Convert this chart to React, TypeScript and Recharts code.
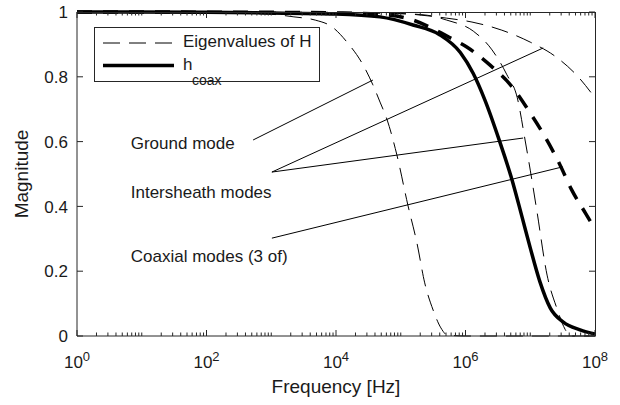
import { LineChart, Line, XAxis, YAxis, ReferenceLine, ReferenceDot } from 'recharts';

// curves: log10(frequency) and magnitude
const groundExp = [0, 1, 2, 3, 3.35, 3.68, 3.94, 4.17, 4.42, 4.57, 4.68, 4.79, 4.94, 5.11, 5.25, 5.37, 5.5, 5.62, 5.72, 6, 7, 8];
const groundMag = [1, 1, 0.998, 0.993, 0.985, 0.975, 0.954, 0.907, 0.836, 0.775, 0.722, 0.667, 0.559, 0.404, 0.287, 0.164, 0.08, 0.025, 0.003, 0, 0, 0];

const sheathLowExp = [0, 4, 5, 5.41, 5.71, 6.12, 6.41, 6.64, 6.8, 6.92, 7.0, 7.1, 7.26, 7.41, 7.54, 7.62, 8];
const sheathLowMag = [1, 0.998, 0.995, 0.99, 0.975, 0.941, 0.883, 0.806, 0.735, 0.605, 0.512, 0.389, 0.188, 0.086, 0.02, 0, 0];

const sheathHighExp = [0, 4, 5, 5.71, 6.1, 6.56, 7.0, 7.38, 7.74, 8];
const sheathHighMag = [1, 0.999, 0.995, 0.981, 0.969, 0.944, 0.907, 0.864, 0.8, 0.735];

const coaxModeExp = [0, 3, 4, 4.7, 5.19, 5.56, 5.72, 6.02, 6.38, 6.72, 7.0, 7.23, 7.46, 7.64, 7.85, 8];
const coaxModeMag = [1, 0.999, 0.997, 0.993, 0.975, 0.942, 0.925, 0.892, 0.836, 0.769, 0.688, 0.614, 0.528, 0.451, 0.38, 0.33];

const hCoaxExp = [0, 2, 3, 4, 4.68, 5.19, 5.6, 5.92, 6.12, 6.3, 6.53, 6.72, 6.87, 7.0, 7.15, 7.31, 7.51, 7.77, 8];
const hCoaxMag = [1, 0.999, 0.997, 0.994, 0.985, 0.96, 0.93, 0.875, 0.81, 0.728, 0.599, 0.481, 0.37, 0.272, 0.167, 0.086, 0.043, 0.019, 0.006];

// annotations: text anchors and leader lines, [log10 f, magnitude]
const noteText = ['Ground mode', 'Intersheath modes', 'Coaxial modes (3 of)'];
const noteAt = [[0.83, 0.597], [0.83, 0.446], [0.83, 0.248]];
const leaders = [
  [[2.72, 0.605], [4.57, 0.79]],
  [[3.01, 0.506], [7.2, 0.889]],
  [[3.01, 0.506], [6.89, 0.611]],
  [[3.01, 0.302], [7.5, 0.522]],
];

const labeledExps = [0, 2, 4, 6, 8];
const yTicks = [0, 0.2, 0.4, 0.6, 0.8, 1];

const xTicks: number[] = [];
for (let e = 0; e < 8; e++) for (let k = 1; k < 10; k++) xTicks.push(k * 10 ** e);
xTicks.push(1e8);

const pts = (exps: number[], mags: number[]) => exps.map((e, i) => ({ f: 10 ** e, m: mags[i] }));

const ink = '#1a1a1a';
const axisInk = '#262626';

// plot box in page px (chart 620x405, margins + axis sizes below)
const box = { left: 77, top: 12, width: 518, height: 324 };

function tickInfo(v: number) {
  const e = Math.round(Math.log10(v));
  const decade = Math.abs(10 ** e - v) < 1e-6 * v;
  return { e, labeled: decade && labeledExps.includes(e) };
}

const BottomTick = (p: any) => {
  const { e, labeled } = tickInfo(p.payload.value);
  return (
    <g>
      <line x1={p.x} x2={p.x} y1={p.y} y2={p.y - (labeled ? 6 : 3.5)} stroke={axisInk} />
      {labeled && (
        <text x={p.x} y={p.y + 32} textAnchor="middle" fontSize={17} fill={ink}>
          <tspan>10</tspan>
          <tspan dy={-7} fontSize={13}>{e}</tspan>
        </text>
      )}
    </g>
  );
};

const LeftTick = (p: any) => {
  const v = p.payload.value;
  return (
    <g>
      <line x1={p.x} x2={p.x + 6} y1={p.y} y2={p.y} stroke={axisInk} />
      <text x={p.x - 9} y={p.y} dy="0.36em" textAnchor="end" fontSize={17} fill={ink}>
        {v === 0 || v === 1 ? String(v) : v.toFixed(1)}
      </text>
    </g>
  );
};

// top/right edges of the box with their inward ticks, plus the legend box
function Overlay() {
  const right = box.left + box.width;
  const bottom = box.top + box.height;
  const fx = (v: number) => box.left + (Math.log10(v) / 8) * box.width;
  const fy = (v: number) => bottom - v * box.height;
  return (
    <svg width={620} height={405} style={{ position: 'absolute', left: 0, top: 0, pointerEvents: 'none' }}>
      <line x1={box.left} x2={right + 0.5} y1={box.top + 0.5} y2={box.top + 0.5} stroke={axisInk} />
      <line x1={right + 0.5} x2={right + 0.5} y1={box.top} y2={bottom + 0.5} stroke={axisInk} />
      {xTicks.map((v) => (
        <line key={'tt' + v} x1={fx(v)} x2={fx(v)} y1={box.top} y2={box.top + (tickInfo(v).labeled ? 6 : 3.5)} stroke={axisInk} />
      ))}
      {yTicks.map((v) => (
        <line key={'rt' + v} x1={right} x2={right - 6} y1={fy(v)} y2={fy(v)} stroke={axisInk} />
      ))}

      <rect x={94.5} y={27.5} width={225} height={54} fill="#fff" stroke={axisInk} />
      <line x1={103} x2={174} y1={43} y2={43} stroke="#000" strokeDasharray="17 9" />
      <text x={183} y={47} fontSize={17} fill={ink}>Eigenvalues of H</text>
      <line x1={103} x2={174} y1={65.5} y2={65.5} stroke="#000" strokeWidth={3.5} />
      <text x={183} y={70} fontSize={17} fill={ink}>h</text>
      <text x={192} y={85} fontSize={14} fill={ink}>coax</text>
    </svg>
  );
}

export default function App() {
  return (
    <div style={{ position: 'absolute', left: 0, top: 0, width: 620, height: 405, background: '#fff', fontFamily: '"Liberation Sans", Arial, sans-serif' }}>
      <LineChart width={620} height={405} margin={{ top: 12, right: 25, left: 0, bottom: 0 }}>
        <XAxis
          dataKey="f" type="number" scale="log" domain={[1, 1e8]} allowDataOverflow
          ticks={xTicks} interval={0} tickSize={0} tickMargin={0} tickLine={false}
          tick={<BottomTick />} height={69} stroke={axisInk}
          label={{ value: 'Frequency [Hz]', position: 'insideBottom', offset: 12, fill: ink, fontSize: 19 }}
        />
        <YAxis
          type="number" domain={[0, 1]} ticks={yTicks} interval={0} width={77}
          tickSize={0} tickMargin={0} tickLine={false} tick={<LeftTick />} stroke={axisInk}
          label={{ value: 'Magnitude', angle: -90, position: 'center', dx: -17, fill: ink, fontSize: 19 }}
        />

        {leaders.map((s, i) => (
          <ReferenceLine
            key={'l' + i}
            segment={[{ x: 10 ** s[0][0], y: s[0][1] }, { x: 10 ** s[1][0], y: s[1][1] }]}
            stroke="#000" strokeWidth={1}
          />
        ))}
        {noteText.map((t, i) => (
          <ReferenceDot
            key={'t' + i} x={10 ** noteAt[i][0]} y={noteAt[i][1]} r={0} fill="none" stroke="none"
            label={{ value: t, position: 'right', offset: 0, fill: ink, fontSize: 17 }}
          />
        ))}

        <Line data={pts(groundExp, groundMag)} dataKey="m" type="monotone" stroke="#000" strokeWidth={1} strokeDasharray="17 9" dot={false} isAnimationActive={false} />
        <Line data={pts(sheathLowExp, sheathLowMag)} dataKey="m" type="monotone" stroke="#000" strokeWidth={1} strokeDasharray="17 9" dot={false} isAnimationActive={false} />
        <Line data={pts(sheathHighExp, sheathHighMag)} dataKey="m" type="monotone" stroke="#000" strokeWidth={1} strokeDasharray="17 9" dot={false} isAnimationActive={false} />
        <Line data={pts(coaxModeExp, coaxModeMag)} dataKey="m" type="monotone" stroke="#000" strokeWidth={3.5} strokeDasharray="15 11" dot={false} isAnimationActive={false} />
        <Line data={pts(hCoaxExp, hCoaxMag)} dataKey="m" type="monotone" stroke="#000" strokeWidth={3.5} dot={false} isAnimationActive={false} />
      </LineChart>
      <Overlay />
    </div>
  );
}
